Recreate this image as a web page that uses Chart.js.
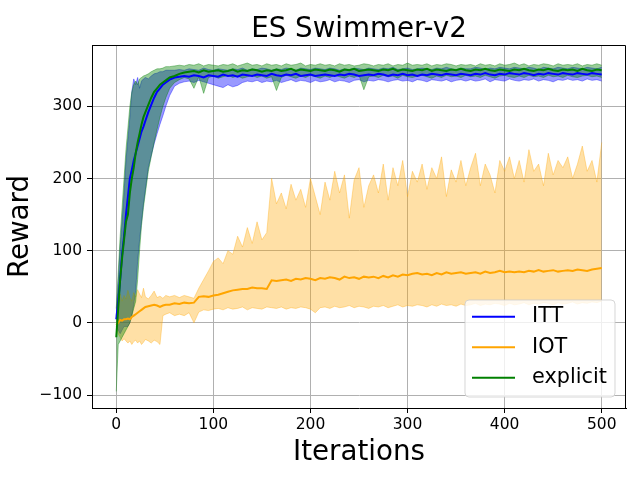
<!DOCTYPE html>
<html>
<head>
<meta charset="utf-8">
<script src="https://cdn.jsdelivr.net/npm/chart.js@4.4.1/dist/chart.umd.min.js"></script>
<style>
  body { margin: 0; background: #fff; }
</style>
</head>
<body>
<canvas id="chart" width="640" height="480"></canvas>
<script>
// iterations sampled (denser at the start where the curves climb)
var iters = [0,2,4,6,8,10,12,14,16,18,20,22,24,26,28,30,33,36,39,42,45,48,51,55,60,
  65,70,75,80,85,90,95,100,105,110,
  115,120,125,130,135,140,145,150,155,160,
  165,170,175,180,185,190,195,200,205,210,
  215,220,225,230,235,240,245,250,255,260,
  265,270,275,280,285,290,295,300,305,310,
  315,320,325,330,335,340,345,350,355,360,
  365,370,375,380,385,390,395,400,405,410,
  415,420,425,430,435,440,445,450,455,460,
  465,470,475,480,485,490,495,500];

var xTicks = [0, 100, 200, 300, 400, 500];
var yTicks = [-100, 0, 100, 200, 300];

// ITT
var itt = [5,30,60,95,120,150,175,200,212,225,235,245,255,265,272,280,292,302,312,320,325,330,333,337,340,
  341,342,341,343,342,340,343,342,341,344,
  342,343,341,344,343,342,344,343,342,345,
  343,342,344,343,345,342,343,344,342,343,
  344,343,342,344,343,345,344,342,343,344,
  343,345,344,342,344,343,345,343,344,342,
  344,343,345,344,343,345,344,343,345,344,
  343,345,344,346,344,343,345,344,346,345,
  344,346,345,343,345,344,346,345,344,346,
  345,344,346,345,344,346,345,344];
var ittHi = [10,55,105,140,180,225,255,285,320,338,330,340,325,335,338,340,338,342,345,346,348,348,350,350,350,
  351,350,352,351,350,353,351,350,352,351,
  350,352,351,353,350,352,351,353,352,350,
  352,351,353,352,350,353,352,351,353,352,
  351,353,352,350,352,351,353,352,351,353,
  352,351,353,352,354,351,352,353,351,352,
  353,352,351,353,352,354,352,351,353,352,
  352,354,353,351,353,352,354,353,352,354,
  353,352,354,353,351,354,353,352,354,353,
  352,354,353,352,354,353,352,354];
var ittLo = [-5,-10,-15,-10,-5,-5,-5,0,10,25,45,85,115,140,165,185,215,232,248,262,275,287,300,315,328,
  332,334,335,333,336,334,332,330,328,326,
  330,327,329,333,335,334,336,333,335,334,
  336,333,335,337,334,336,335,333,336,334,
  335,337,334,336,335,333,336,337,334,336,
  335,337,336,334,336,337,335,336,334,337,
  336,334,337,336,335,337,334,336,337,335,
  337,335,336,338,334,337,336,335,338,336,
  335,337,336,338,335,337,336,334,337,336,
  338,336,337,335,338,336,337,335];

// IOT
var iot = [-3,0,4,3,5,5,6,5,8,10,12,14,16,18,20,22,23,24,25,24,22,24,25,25,27,
  26,28,27,28,36,37,36,38,39,41,
  43,45,46,47,47,49,48,48,47,59,
  58,59,60,58,61,60,62,61,59,62,
  61,63,62,60,64,62,63,61,64,63,
  64,62,65,63,66,64,67,66,68,69,
  67,68,66,69,67,70,68,69,70,68,
  69,70,68,71,69,70,72,70,71,70,
  71,70,72,71,73,71,72,73,71,72,
  73,72,74,73,72,74,75,76];
var iotHi = [20,35,40,30,38,33,45,35,30,42,36,46,40,35,48,36,33,38,44,35,37,34,38,36,38,
  35,38,36,34,48,60,72,85,90,82,
  100,95,120,105,132,110,140,115,125,200,
  165,180,158,192,170,185,160,200,175,150,
  195,170,210,180,205,145,198,215,160,190,
  205,180,220,170,215,190,225,175,210,195,
  220,185,215,200,230,175,212,195,225,190,
  215,235,190,220,205,180,225,210,230,200,
  225,195,240,210,220,190,235,205,225,215,
  230,200,220,245,210,225,195,250];
var iotLo = [-5,-15,-20,-25,-22,-25,-28,-25,-30,-26,-24,-28,-25,-30,-27,-23,-25,-28,-24,-26,-30,10,12,14,10,
  12,10,14,0,15,18,17,19,20,18,
  21,19,20,22,18,21,20,19,22,21,
  20,22,19,21,20,22,21,19,14,21,
  22,20,23,21,22,24,21,23,22,20,
  23,22,24,21,23,25,22,24,23,25,
  24,22,25,23,26,24,25,23,26,24,
  25,27,24,26,25,27,26,24,27,25,
  26,28,25,27,26,28,27,25,28,26,
  27,29,26,28,27,29,28,30];

// explicit
var expl = [-20,20,60,90,115,140,150,180,200,215,235,250,262,275,285,292,302,312,320,325,330,333,336,340,342,
  345,347,348,349,347,350,348,349,350,348,
  349,351,348,350,349,351,350,348,350,349,
  351,349,350,352,349,351,350,349,351,350,
  349,351,350,348,351,350,352,349,350,351,
  350,349,351,350,352,349,351,350,349,351,
  350,352,349,351,350,349,351,350,352,350,
  349,351,350,352,350,349,351,350,349,351,
  350,352,350,349,351,350,352,350,349,351,
  350,351,349,352,350,349,351,350];
var explHi = [20,70,120,160,200,240,270,300,320,330,335,330,338,340,342,343,345,348,350,352,352,353,355,355,356,
  357,356,358,357,359,356,358,357,356,358,
  357,359,356,358,360,357,358,356,359,357,
  358,356,359,357,358,360,356,358,357,359,
  357,358,356,359,357,358,356,357,359,358,
  356,358,357,359,356,358,357,360,357,358,
  357,359,356,358,357,359,358,356,358,357,
  358,356,359,357,358,356,359,357,358,360,
  357,359,356,358,357,359,358,356,359,357,
  358,357,359,356,358,357,359,357];
var explLo = [-95,-30,-25,-20,-15,-10,-5,0,10,20,30,60,100,135,160,180,210,230,250,268,285,300,312,325,333,
  337,340,338,325,341,318,340,342,339,341,
  343,340,342,339,341,343,340,342,339,341,
  322,340,343,341,339,342,340,343,341,339,
  342,340,343,341,339,342,340,343,323,341,
  342,340,343,341,342,339,343,341,340,342,
  343,341,339,342,340,343,341,342,340,343,
  341,342,340,343,341,339,342,343,341,340,
  342,340,343,341,342,340,343,341,342,340,
  343,341,340,342,343,341,342,340];

var labels = ['ITT', 'IOT', 'explicit'];
var colors = ['#0000ff', '#ffa500', '#008000'];
var bandColors = ['rgba(0,0,255,0.4)', 'rgba(255,165,0,0.35)', 'rgba(0,128,0,0.4)'];

function pts(arr){
  return arr.map(function(v, i){ return {x: iters[i], y: v} })
}

function meanSet(i, arr, order){
  return {label: labels[i], data: pts(arr), borderColor: colors[i], borderWidth: 2,
    fill: false, order: order}
}
function bandSets(i, hi, lo, order){
  return [
    {label: labels[i] + ' hi', data: pts(hi), borderColor: bandColors[i], borderWidth: 1,
      backgroundColor: bandColors[i], fill: '+1', order: order},
    {label: labels[i] + ' lo', data: pts(lo), borderColor: bandColors[i], borderWidth: 1,
      fill: false, order: order}
  ]
}

// bands first (higher order = drawn underneath), lines on top
var datasets = []
datasets = datasets.concat(bandSets(0, ittHi, ittLo, 5))
datasets = datasets.concat(bandSets(1, iotHi, iotLo, 4))
datasets = datasets.concat(bandSets(2, explHi, explLo, 3))
datasets.push(meanSet(0, itt, 2))
datasets.push(meanSet(1, iot, 1))
datasets.push(meanSet(2, expl, 0))

function fixTicks(list){
  return function(s){ s.ticks = list.map(function(v){ return {value: v} }) }
}

// title, top/right frame and the legend box
var extras = {
  id: 'extras',
  afterDraw: function(chart){
    var ctx = chart.ctx
    var a = chart.chartArea
    ctx.save()
    ctx.strokeStyle = 'black'
    ctx.lineWidth = 1
    ctx.beginPath()
    ctx.moveTo(a.left, a.top + 0.5)
    ctx.lineTo(a.right - 0.5, a.top + 0.5)
    ctx.lineTo(a.right - 0.5, a.bottom)
    ctx.stroke()

    ctx.fillStyle = 'black'
    ctx.font = '27.7px "DejaVu Sans"'
    ctx.textAlign = 'center'
    ctx.textBaseline = 'alphabetic'
    ctx.fillText('ES Swimmer-v2', (a.left + a.right) / 2, 37)

    // legend
    var bx = 465, by = 300, bw = 150, bh = 97, r = 4
    ctx.beginPath()
    ctx.moveTo(bx + r, by)
    ctx.arcTo(bx + bw, by, bx + bw, by + bh, r)
    ctx.arcTo(bx + bw, by + bh, bx, by + bh, r)
    ctx.arcTo(bx, by + bh, bx, by, r)
    ctx.arcTo(bx, by, bx + bw, by, r)
    ctx.closePath()
    ctx.fillStyle = 'rgba(255,255,255,0.8)'
    ctx.fill()
    ctx.strokeStyle = 'rgba(204,204,204,0.8)'
    ctx.stroke()

    var rows = [316.7, 347.3, 377.7]
    ctx.font = '20.8px "DejaVu Sans"'
    ctx.textAlign = 'left'
    ctx.textBaseline = 'middle'
    for(var i=0; i<labels.length; i++){
      ctx.strokeStyle = colors[i]
      ctx.lineWidth = 2
      ctx.beginPath()
      ctx.moveTo(472, rows[i])
      ctx.lineTo(515, rows[i])
      ctx.stroke()
      ctx.fillStyle = 'black'
      ctx.fillText(labels[i], 532, rows[i])
    }
    ctx.restore()
  }
}

Chart.defaults.font.family = '"DejaVu Sans"'

var ctx = document.getElementById('chart').getContext('2d')
var chart = new Chart(ctx, {
  type: 'line',
  data: { datasets: datasets },
  options: {
    responsive: false,
    animation: false,
    devicePixelRatio: 1,
    layout: { padding: { top: 45, right: 14, left: 0, bottom: 0 } },
    elements: { point: { radius: 0 }, line: { tension: 0 } },
    plugins: {
      legend: { display: false },
      tooltip: { enabled: false },
      title: { display: false }
    },
    scales: {
      x: {
        type: 'linear',
        min: -25,
        max: 525,
        afterBuildTicks: fixTicks(xTicks),
        afterFit: function(s){ s.height = 72 },
        ticks: { color: 'black', font: { size: 15.5 }, padding: 3, maxRotation: 0, autoSkip: false },
        grid: { color: '#b0b0b0', tickColor: 'black', tickLength: 5 },
        border: { color: 'black' },
        title: { display: true, text: 'Iterations', color: 'black', font: { size: 27.7 }, padding: { top: 0, bottom: 11 } }
      },
      y: {
        min: -118,
        max: 385,
        afterBuildTicks: fixTicks(yTicks),
        afterFit: function(s){ s.width = 92 },
        ticks: { color: 'black', font: { size: 15.5 }, padding: 5, autoSkip: false,
          callback: function(v){ return String(v).replace('-', '\u2212') } },
        grid: { color: '#b0b0b0', tickColor: 'black', tickLength: 5 },
        border: { color: 'black' },
        title: { display: true, text: 'Reward', color: 'black', font: { size: 27.7 }, padding: { top: 4, bottom: 0 } }
      }
    }
  },
  plugins: [extras]
});
</script>
</body>
</html>
